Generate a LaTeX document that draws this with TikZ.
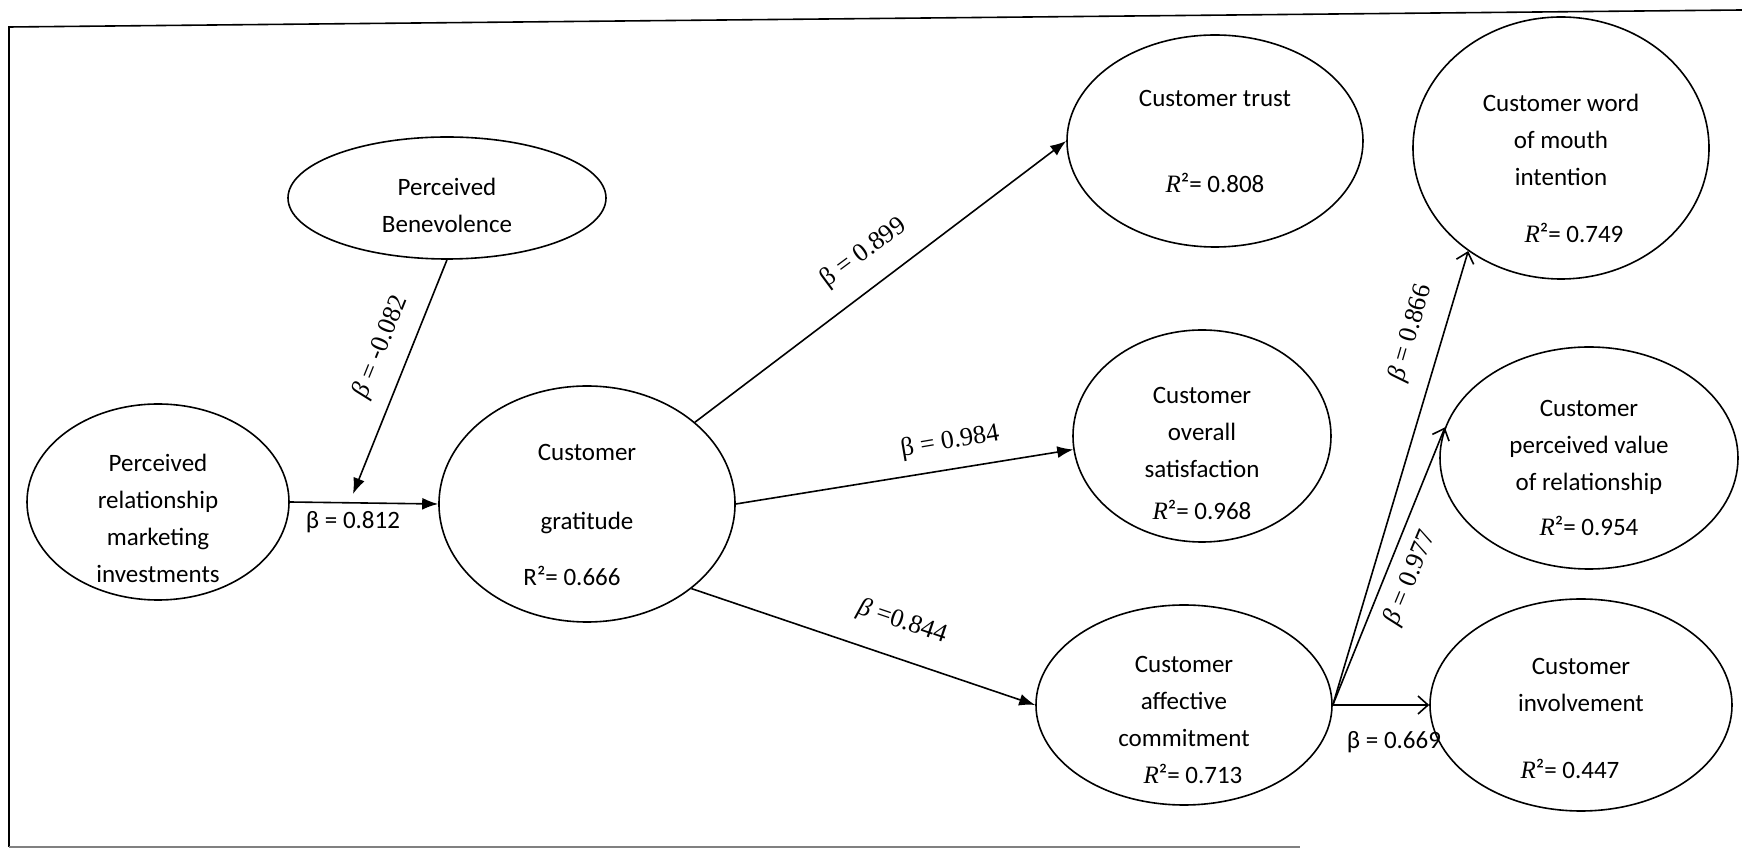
\documentclass[tikz,border=0pt]{standalone}
\usepackage{fontspec}
\setmainfont{Carlito}
\newfontfamily\lserif{Liberation Serif}
\usetikzlibrary{shapes.geometric,arrows.meta}

\newcommand{\rsq}{{\lserif\itshape R}²}

\begin{document}
\begin{tikzpicture}[x=0.5pt,y=-0.5pt,
  oval/.style={draw,ellipse,line width=0.8pt,inner sep=0pt},
  txt/.style={align=center,font=\fontsize{12.5}{18.5}\selectfont},
  link/.style={line width=0.8pt,-{Latex[length=8pt,width=6pt]}},
  openlink/.style={line width=0.8pt,-{Straight Barb[length=5pt,width=9pt]}},
  coef/.style={font=\lserif\fontsize{13}{15}\selectfont,inner sep=1pt},
  coefsans/.style={font=\fontsize{12.5}{15}\selectfont,inner sep=1pt}]
\useasboundingbox (0,0) rectangle (1742,849);

% frame
\draw[line width=0.8pt] (1742,10) -- (9,27) -- (9,847);
\draw[line width=0.8pt,gray] (9,847) -- (1300,847);

% constructs
\node[oval,minimum width=159pt,minimum height=61pt] (ben) at (447,198) {};
\node[oval,minimum width=131pt,minimum height=98pt] (prmi) at (158,502) {};
\node[oval,minimum width=148pt,minimum height=118pt] (grat) at (587,504) {};
\node[oval,minimum width=148pt,minimum height=106pt] (trust) at (1215,141) {};
\node[oval,minimum width=129pt,minimum height=106pt] (sat) at (1202,436) {};
\node[oval,minimum width=148pt,minimum height=100pt] (comm) at (1184,705) {};
\node[oval,minimum width=148pt,minimum height=131pt] (wom) at (1561,148) {};
\node[oval,minimum width=149pt,minimum height=111pt] (pv) at (1589,458) {};
\node[oval,minimum width=151pt,minimum height=106pt] (inv) at (1581,705) {};

% construct texts
\node[txt] (benT) at ([yshift=-3.5pt]ben) {Perceived\\Benevolence};
\node[txt] (prmiT) at ([yshift=-8pt]prmi) {Perceived\\relationship\\marketing\\investments};
\node[txt] (gratT) at ([yshift=-5.5pt]grat) {Customer\\[16pt]gratitude\\[9.5pt]R²= 0.666\hspace*{15pt}};
\node[txt] (trustT) at (trust) {Customer trust\\[24.5pt]\rsq= 0.808};
\node[txt] (satT) at ([yshift=-8.5pt]sat) {Customer\\overall\\satisfaction\\[2.5pt]\rsq= 0.968};
\node[txt] (commT) at ([yshift=-7.5pt]comm) {Customer\\affective\\commitment\\\hspace*{9pt}\rsq= 0.713};
\node[txt] (womT) at ([yshift=-10pt]wom) {Customer word\\of mouth\\intention\\[10pt]\hspace*{13pt}\rsq= 0.749};
\node[txt] (pvT) at ([yshift=-5pt]pv) {Customer\\perceived value\\of relationship\\[4pt]\rsq= 0.954};
\node[txt] (invT) at ([yshift=-6.5pt]inv) {Customer\\involvement\\[15pt]\rsq= 0.447\hspace*{11pt}};

% paths
\coordinate (mod) at (353,494);
\draw[link] (prmi.east) -- (grat.west);
\draw[link] (ben.south) -- (mod);
\draw[link] (grat) -- (trust.west);
\draw[link] (grat.east) -- (sat.186);
\draw[link] (grat.-39) -- (comm.west);
\draw[openlink] (comm.east) -- (wom.228);
\draw[openlink] (comm.east) -- (pv.168);
\draw[openlink] (comm.east) -- (inv.west);

% path coefficients
\node[coefsans] (b1) at (353,522) {β = 0.812};
\node[coef,rotate=68] (b2) at (381,347) {{\itshape β} = -0.082};
\node[coef,rotate=36.5] (b3) at (864,253) {β = 0.899};
\node[coef,rotate=9.7] (b4) at (950,442) {β = 0.984};
\node[coef,rotate=-18.7] (b5) at (902,622) {{\itshape β} =0.844};
\node[coef,rotate=73.8] (b6) at (1411,333) {{\itshape β} = 0.866};
\node[coef,rotate=67.5] (b7) at (1411,578) {{\itshape β} = 0.977};
\node[coefsans] (b8) at (1394,742) {β = 0.669};
\end{tikzpicture}
\end{document}
